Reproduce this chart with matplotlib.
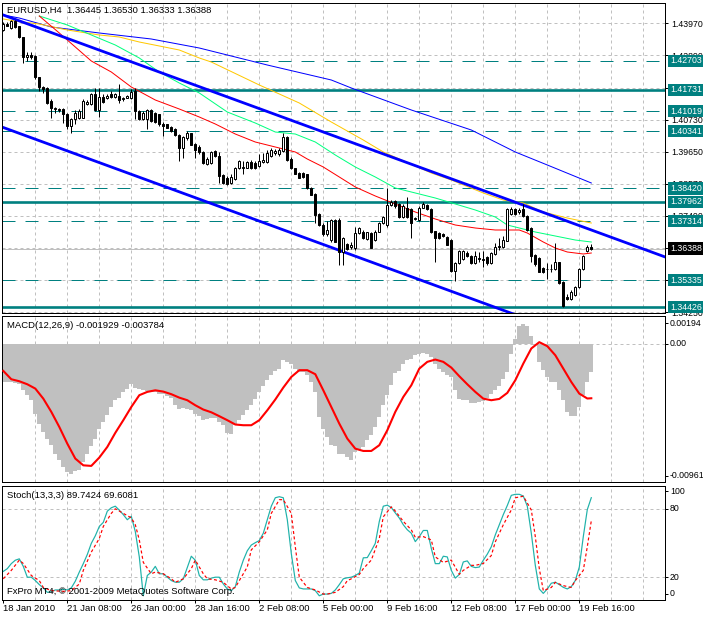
import numpy as np
import matplotlib
matplotlib.use("Agg")
import matplotlib.pyplot as plt
import matplotlib.transforms as mtransforms

plt.rcParams['font.family'] = ['Liberation Sans', 'DejaVu Sans']
plt.rcParams['axes.linewidth'] = 0.72

# ------------------------------------------------------------------ data
header_text = "EURUSD,H4  1.36445 1.36530 1.36333 1.36388"
macd_text = "MACD(12,26,9) -0.001929 -0.003784"
stoch_text = "Stoch(13,3,3) 89.7424 69.6081"
copyright_text = "FxPro MT4, \u00a9 2001-2009 MetaQuotes Software Corp."

opens = [1.43750, 1.43953, 1.43817, 1.44032, 1.43863, 1.43502, 1.42825, 1.42915, 1.42859, 1.42148,
         1.41832, 1.41787, 1.41358, 1.41076, 1.41099, 1.41076, 1.40907, 1.40512, 1.40738, 1.40794,
         1.40794, 1.41268, 1.41246, 1.41607, 1.41043, 1.41494, 1.41449, 1.41584, 1.41494, 1.41528,
         1.41415, 1.41471, 1.41449, 1.41697, 1.41020, 1.40738, 1.40738, 1.41043, 1.40964, 1.40907,
         1.40591, 1.40569, 1.40479, 1.40400, 1.40208, 1.39779, 1.40095, 1.40264, 1.39915, 1.39819,
         1.39627, 1.39253, 1.39287, 1.39661, 1.39514, 1.38868, 1.38777, 1.38607, 1.38721, 1.39094,
         1.39094, 1.39117, 1.39321, 1.39287, 1.39174, 1.39321, 1.39321, 1.39514, 1.39593, 1.39570,
         1.39684, 1.40159, 1.39400, 1.39094, 1.38947, 1.38947, 1.38890, 1.38437, 1.38233, 1.37554,
         1.37191, 1.36874, 1.36682, 1.37361, 1.37361, 1.36285, 1.36534, 1.36455, 1.36398, 1.36908,
         1.36965, 1.36715, 1.36908, 1.36682, 1.36965, 1.37248, 1.37191, 1.37848, 1.37984, 1.37883,
         1.37452, 1.37769, 1.37713, 1.37373, 1.37339, 1.37769, 1.37860, 1.37713, 1.36976, 1.36919,
         1.36885, 1.36772, 1.36693, 1.35639, 1.35900, 1.36047, 1.36239, 1.36126, 1.35900, 1.36069,
         1.36047, 1.36092, 1.35900, 1.36205, 1.36432, 1.36432, 1.36659, 1.37543, 1.37713, 1.37633,
         1.37713, 1.37486, 1.37089, 1.36160, 1.36069, 1.35752, 1.35707, 1.35707, 1.35707, 1.35933,
         1.35254, 1.34766, 1.34687, 1.34823, 1.35106, 1.35707, 1.36319, 1.36445]
highs = [1.43998, 1.44009, 1.44088, 1.44066, 1.43896, 1.43524, 1.42994, 1.42994, 1.42915, 1.42171,
         1.41866, 1.41832, 1.41415, 1.41155, 1.41133, 1.41110, 1.40964, 1.40794, 1.41043, 1.41076,
         1.41415, 1.41381, 1.41640, 1.41787, 1.41787, 1.41584, 1.41584, 1.41697, 1.41640, 1.41922,
         1.41494, 1.41561, 1.41753, 1.41787, 1.41043, 1.41020, 1.41076, 1.41076, 1.40997, 1.40930,
         1.40659, 1.40591, 1.40512, 1.40433, 1.40230, 1.40174, 1.40343, 1.40287, 1.39948, 1.39865,
         1.39661, 1.39457, 1.39684, 1.39706, 1.39627, 1.38913, 1.38834, 1.38890, 1.39140, 1.39366,
         1.39344, 1.39344, 1.39366, 1.39344, 1.39570, 1.39593, 1.39706, 1.39774, 1.39740, 1.39774,
         1.40273, 1.40193, 1.39457, 1.39117, 1.38981, 1.38981, 1.38913, 1.38460, 1.38267, 1.37588,
         1.37248, 1.37304, 1.37395, 1.37395, 1.37418, 1.36795, 1.36568, 1.36602, 1.37134, 1.37134,
         1.37021, 1.36965, 1.36942, 1.37021, 1.37282, 1.37474, 1.38415, 1.38041, 1.38041, 1.37939,
         1.37883, 1.38132, 1.37747, 1.37452, 1.37826, 1.37973, 1.37905, 1.37747, 1.36999, 1.36953,
         1.36919, 1.36806, 1.36727, 1.35933, 1.36353, 1.36353, 1.36296, 1.36160, 1.36319, 1.36273,
         1.36296, 1.36126, 1.36273, 1.36579, 1.36749, 1.36806, 1.37769, 1.37792, 1.37769, 1.37747,
         1.37883, 1.37520, 1.37112, 1.36205, 1.36092, 1.35786, 1.35900, 1.35865, 1.36579, 1.35956,
         1.35299, 1.34880, 1.34993, 1.35140, 1.35752, 1.36183, 1.36500, 1.36530]
lows = [1.43727, 1.43863, 1.43795, 1.43817, 1.43479, 1.42622, 1.42712, 1.42768, 1.42092, 1.41697,
        1.41640, 1.41268, 1.40772, 1.40964, 1.40997, 1.40625, 1.40400, 1.40264, 1.40569, 1.40738,
        1.40772, 1.41223, 1.41212, 1.41020, 1.40817, 1.41302, 1.41415, 1.41449, 1.41449, 1.41302,
        1.41358, 1.41449, 1.41415, 1.40738, 1.40704, 1.40704, 1.40400, 1.40659, 1.40614, 1.40512,
        1.40174, 1.40433, 1.40321, 1.40174, 1.39328, 1.39441, 1.40061, 1.39869, 1.39441, 1.39570,
        1.39253, 1.39208, 1.39253, 1.39457, 1.38607, 1.38551, 1.38528, 1.38551, 1.38687, 1.39060,
        1.38888, 1.39094, 1.39060, 1.39060, 1.39140, 1.39287, 1.39287, 1.39480, 1.39548, 1.39514,
        1.39627, 1.39344, 1.39060, 1.38888, 1.38755, 1.38777, 1.38381, 1.38188, 1.37248, 1.37168,
        1.36829, 1.36829, 1.36625, 1.36602, 1.35832, 1.35832, 1.36342, 1.36376, 1.36342, 1.36874,
        1.36704, 1.36682, 1.36398, 1.36647, 1.36942, 1.37214, 1.37134, 1.37814, 1.37758, 1.37429,
        1.37407, 1.37429, 1.36749, 1.37339, 1.37316, 1.37747, 1.37679, 1.36919, 1.35956, 1.36727,
        1.36772, 1.36500, 1.35616, 1.35299, 1.35865, 1.36013, 1.36092, 1.35865, 1.35865, 1.35956,
        1.35786, 1.35843, 1.35865, 1.36183, 1.36353, 1.36409, 1.36636, 1.37520, 1.37509, 1.37565,
        1.37452, 1.36999, 1.35956, 1.35820, 1.35594, 1.35559, 1.35367, 1.35616, 1.35673, 1.35186,
        1.34426, 1.34653, 1.34653, 1.34800, 1.35072, 1.35673, 1.36273, 1.36333]
closes = [1.43953, 1.43896, 1.44032, 1.43840, 1.43502, 1.42825, 1.42915, 1.42847, 1.42148, 1.41832,
          1.41764, 1.41302, 1.41133, 1.41133, 1.41043, 1.40907, 1.40512, 1.40738, 1.40964, 1.41020,
          1.41358, 1.41336, 1.41584, 1.41043, 1.41494, 1.41336, 1.41528, 1.41494, 1.41584, 1.41381,
          1.41449, 1.41516, 1.41663, 1.41020, 1.40738, 1.40964, 1.41043, 1.40682, 1.40648, 1.40569,
          1.40512, 1.40456, 1.40343, 1.40208, 1.39779, 1.40140, 1.40264, 1.39892, 1.39723, 1.39638,
          1.39287, 1.39400, 1.39627, 1.39514, 1.38834, 1.38607, 1.38573, 1.38800, 1.39117, 1.39344,
          1.39140, 1.39310, 1.39094, 1.39117, 1.39344, 1.39366, 1.39593, 1.39706, 1.39661, 1.39706,
          1.40159, 1.39366, 1.39094, 1.38913, 1.38777, 1.38800, 1.38415, 1.38211, 1.37531, 1.37191,
          1.36874, 1.37021, 1.37361, 1.36625, 1.36285, 1.36761, 1.36376, 1.36511, 1.36908, 1.37100,
          1.36738, 1.36942, 1.36421, 1.36965, 1.37248, 1.37440, 1.37871, 1.37962, 1.37837, 1.37452,
          1.37826, 1.37452, 1.37259, 1.37407, 1.37769, 1.37905, 1.37713, 1.36953, 1.36749, 1.36749,
          1.36806, 1.36523, 1.35639, 1.35900, 1.36296, 1.36296, 1.36126, 1.35900, 1.36126, 1.36047,
          1.36013, 1.35900, 1.36239, 1.36432, 1.36466, 1.36693, 1.37713, 1.37713, 1.37543, 1.37679,
          1.37486, 1.37033, 1.36126, 1.35865, 1.35616, 1.35594, 1.35720, 1.35695, 1.35933, 1.35220,
          1.34460, 1.34687, 1.34936, 1.35106, 1.35707, 1.36126, 1.36432, 1.36388]

# moving averages (sampled bar index, price)
ma_red_idx = [9, 14, 22, 27, 32, 38, 44, 49, 53, 58, 63, 68, 73, 76, 80, 84, 88, 93, 98, 103,
              108, 113, 118, 123, 129, 131, 135, 138, 141, 145, 147]
ma_red_val = [1.44216, 1.43644, 1.42702, 1.42332, 1.41827, 1.41390, 1.41087, 1.40818, 1.40583, 1.40246,
              1.39977, 1.39809, 1.39641, 1.39405, 1.39136, 1.38800, 1.38463, 1.38161, 1.37891, 1.37622,
              1.37387, 1.37185, 1.37084, 1.37017, 1.37017, 1.36916, 1.36613, 1.36412, 1.36277, 1.36210, 1.36243]
ma_green_idx = [9, 16, 22, 28, 34, 39, 44, 49, 56, 63, 68, 73, 78, 83, 88, 93, 98, 103, 108, 113,
                118, 123, 126, 130, 133, 138, 143, 147]
ma_green_val = [1.44216, 1.43913, 1.43577, 1.43240, 1.42803, 1.42332, 1.41962, 1.41626, 1.40986, 1.40616,
                1.40313, 1.40246, 1.39977, 1.39540, 1.39136, 1.38800, 1.38430, 1.38262, 1.38093, 1.37892,
                1.37690, 1.37454, 1.37185, 1.37051, 1.36950, 1.36815, 1.36680, 1.36613]
ma_gold_idx = [0, 4, 9, 16, 24, 29, 34, 39, 44, 49, 52, 64, 74, 82, 90, 95, 107, 112, 120, 125,
               130, 135, 141, 147]
ma_gold_val = [1.44115, 1.44024, 1.43947, 1.43745, 1.43577, 1.43509, 1.43341, 1.43207, 1.43072, 1.42803,
               1.42668, 1.41895, 1.41289, 1.40650, 1.40044, 1.39641, 1.38934, 1.38699, 1.38262, 1.38026,
               1.37925, 1.37622, 1.37420, 1.37252]
ma_blue_idx = [0, 4, 12, 24, 37, 49, 66, 82, 87, 102, 117, 128, 136, 147]
ma_blue_val = [1.44249, 1.44148, 1.43846, 1.43644, 1.43442, 1.43139, 1.42567, 1.42063, 1.41794, 1.41054,
               1.40381, 1.39641, 1.39204, 1.38598]

# channel trend lines (bar index, price)
channel_idx = [0, 166]
channel_upper = [1.44249, 1.36083]
channel_lower = [1.40465, 1.32299]

# horizontal levels
levels_solid = [1.41731, 1.37962, 1.34426]
levels_dashed = [1.42703, 1.41019, 1.40341, 1.38420, 1.37314, 1.35335]
current_price = 1.36388
price_ticks = [1.43970, 1.42890, 1.41810, 1.40730, 1.39650, 1.38570, 1.37490, 1.36410, 1.35330, 1.34250]
price_ticks_hidden = [1.41810, 1.36410, 1.35330]   # fully covered by level boxes in the reference

# MACD
macd_hist = [-0.00264, -0.00264, -0.00264, -0.00271, -0.00276, -0.00318, -0.00357, -0.00392, -0.00485, -0.00555,
             -0.00613, -0.00659, -0.00705, -0.00763, -0.00810, -0.00856, -0.00891, -0.00907, -0.00884, -0.00875,
             -0.00821, -0.00763, -0.00712, -0.00659, -0.00589, -0.00543, -0.00497, -0.00439, -0.00392, -0.00374,
             -0.00334, -0.00311, -0.00276, -0.00304, -0.00313, -0.00318, -0.00327, -0.00334, -0.00334, -0.00346,
             -0.00350, -0.00360, -0.00374, -0.00427, -0.00450, -0.00443, -0.00452, -0.00462, -0.00485, -0.00503,
             -0.00531, -0.00520, -0.00513, -0.00513, -0.00543, -0.00566, -0.00619, -0.00629, -0.00566, -0.00531,
             -0.00497, -0.00462, -0.00427, -0.00381, -0.00334, -0.00295, -0.00253, -0.00218, -0.00188, -0.00172,
             -0.00114, -0.00125, -0.00137, -0.00172, -0.00195, -0.00195, -0.00218, -0.00264, -0.00334, -0.00508,
             -0.00589, -0.00647, -0.00705, -0.00712, -0.00768, -0.00768, -0.00787, -0.00810, -0.00752, -0.00740,
             -0.00717, -0.00671, -0.00636, -0.00578, -0.00508, -0.00427, -0.00357, -0.00288, -0.00206, -0.00188,
             -0.00137, -0.00114, -0.00102, -0.00079, -0.00067, -0.00063, -0.00067, -0.00090, -0.00137, -0.00172,
             -0.00195, -0.00218, -0.00230, -0.00323, -0.00381, -0.00387, -0.00392, -0.00411, -0.00411, -0.00404,
             -0.00397, -0.00374, -0.00350, -0.00318, -0.00295, -0.00241, -0.00195, -0.00067, 0.00037, 0.00123,
             0.00137, 0.00123, 0.00053, -0.00005, -0.00125, -0.00183, -0.00230, -0.00264, -0.00264, -0.00323,
             -0.00392, -0.00473, -0.00503, -0.00503, -0.00439, -0.00357, -0.00264, -0.00193]
macd_sig_idx = [0, 2, 4, 6, 8, 10, 12, 14, 16, 18, 20, 22, 24, 26, 28, 30, 32, 34, 36, 38,
                40, 42, 44, 46, 48, 50, 52, 54, 56, 58, 60, 62, 64, 66, 68, 70, 72, 74, 76, 78,
                80, 82, 84, 86, 88, 90, 92, 94, 96, 98, 100, 102, 104, 106, 108, 110, 112, 114, 116, 118,
                120, 122, 124, 126, 128, 130, 132, 134, 136, 138, 140, 142, 144, 146, 147]
macd_sig_val = [-0.00188, -0.00246, -0.00260, -0.00281, -0.00311, -0.00381, -0.00473, -0.00578, -0.00694, -0.00798,
                -0.00845, -0.00849, -0.00791, -0.00717, -0.00619, -0.00531, -0.00439, -0.00357, -0.00334, -0.00323,
                -0.00332, -0.00350, -0.00374, -0.00392, -0.00427, -0.00457, -0.00476, -0.00503, -0.00531, -0.00561,
                -0.00566, -0.00566, -0.00531, -0.00462, -0.00387, -0.00304, -0.00230, -0.00183, -0.00183, -0.00211,
                -0.00323, -0.00439, -0.00555, -0.00659, -0.00729, -0.00745, -0.00745, -0.00705, -0.00601, -0.00473,
                -0.00369, -0.00288, -0.00172, -0.00125, -0.00109, -0.00125, -0.00165, -0.00225, -0.00281, -0.00334,
                -0.00381, -0.00392, -0.00383, -0.00341, -0.00253, -0.00137, -0.00032, 0.00012, -0.00016, -0.00079,
                -0.00172, -0.00265, -0.00346, -0.00380, -0.003784]
macd_ticks = [0.00194, 0.0, -0.00961]

# Stochastic
stoch_main = [25.1, 27.5, 31.9, 34.9, 36.1, 29.5, 20.0, 20.0, 17.1, 13.5,
              10.6, 6.7, 7.3, 8.8, 8.8, 9.4, 8.8, 10.6, 16.5, 24.5,
              31.9, 39.9, 49.7, 56.3, 64.5, 68.1, 77.9, 80.9, 82.3, 78.8,
              74.9, 70.4, 73.4, 60.0, 37.8, 3.7, 21.5, 24.5, 29.5, 23.0,
              23.0, 20.0, 17.1, 15.6, 15.6, 18.6, 28.4, 38.4, 34.9, 21.5,
              17.7, 17.7, 19.2, 20.0, 20.0, 14.1, 9.7, 8.2, 11.7, 24.5,
              34.9, 43.2, 48.2, 50.3, 52.1, 58.6, 70.4, 82.3, 89.7, 90.6,
              89.7, 70.4, 40.8, 17.1, 10.6, 9.7, 9.7, 9.7, 8.2, 3.7,
              5.2, 5.2, 5.8, 8.8, 13.5, 18.6, 19.5, 20.0, 21.5, 23.6,
              37.0, 37.2, 43.2, 49.7, 68.9, 82.3, 83.2, 81.1, 76.4, 71.9,
              66.0, 61.6, 58.6, 51.2, 55.6, 61.0, 61.0, 45.3, 31.9, 31.9,
              38.4, 37.8, 26.0, 19.2, 22.4, 33.4, 34.3, 29.5, 28.4, 28.9,
              34.9, 40.2, 46.7, 57.1, 66.0, 74.9, 82.9, 91.8, 92.7, 92.7,
              91.2, 82.3, 58.6, 30.4, 9.7, 5.8, 9.7, 14.7, 15.6, 13.5,
              11.1, 9.7, 11.7, 17.1, 28.9, 55.6, 79.3, 89.74]
stoch_sig_idx = [0, 2, 4, 5, 7, 9, 10, 12, 15, 17, 19, 20, 22, 24, 25, 27, 28, 30, 32, 33,
                 34, 35, 37, 38, 40, 42, 43, 45, 47, 48, 50, 51, 53, 55, 57, 58, 59, 61, 62, 64,
                 66, 67, 69, 70, 72, 73, 74, 76, 78, 80, 81, 83, 85, 86, 87, 89, 90, 92, 94, 95,
                 97, 98, 100, 102, 103, 105, 107, 108, 110, 112, 114, 115, 117, 118, 120, 122, 123, 125, 127, 128,
                 130, 132, 133, 134, 135, 137, 138, 140, 142, 143, 145, 146, 147]
stoch_sig_val = [18.6, 26.0, 35.0, 32.0, 21.5, 17.0, 11.0, 8.2, 7.6, 8.2, 14.0, 26.0, 42.0, 54.0, 64.5, 76.0, 80.0, 76.0, 72.0, 66.0,
                 52.7, 33.0, 23.0, 24.5, 23.0, 18.6, 15.5, 18.6, 27.5, 35.0, 23.0, 18.6, 17.7, 15.5, 9.6, 11.0, 17.0, 29.0, 44.0, 51.0,
                 61.5, 76.0, 88.0, 88.0, 76.0, 46.7, 20.0, 11.0, 8.8, 5.2, 5.2, 6.7, 11.7, 17.0, 18.6, 22.4, 27.5, 35.0, 54.0, 73.0,
                 81.7, 78.0, 69.0, 61.5, 55.0, 55.6, 52.7, 37.8, 33.0, 35.0, 22.5, 26.0, 30.4, 30.4, 32.0, 39.0, 51.0, 66.0, 79.0, 89.7,
                 91.0, 79.0, 55.6, 27.5, 8.2, 11.0, 15.5, 12.6, 11.0, 17.0, 26.0, 46.7, 69.6]
stoch_ticks = [100, 80, 20, 0]

# time axis labels
time_label_idx = [0, 16, 32, 48, 64, 80, 96, 112, 128, 144]
time_labels = ['18 Jan 2010', '21 Jan 08:00', '26 Jan 00:00', '28 Jan 16:00', '2 Feb 08:00',
               '5 Feb 00:00', '9 Feb 16:00', '12 Feb 08:00', '17 Feb 00:00', '19 Feb 16:00']

# ------------------------------------------------------------------ style
TEAL = '#008080'
GRID = '#C0C0C0'
PX = 0.72  # one pixel in points at dpi 100
FS = 6.8   # panel texts
FSR = 6.3  # right-hand scale texts

W, H = 703, 617
fig = plt.figure(figsize=(W / 100, H / 100), dpi=100)
fig.patch.set_facecolor('white')


def add_ax(l, t, r, b):
    return fig.add_axes([l / W, 1 - b / H, (r - l) / W, (b - t) / H])


ax1 = add_ax(2, 3, 665, 313)
ax2 = add_ax(2, 316, 665, 482)
ax3 = add_ax(2, 486, 665, 600)

XMIN, XMAX = -0.325, 165.425
bars = np.arange(len(opens))
o = np.array(opens); h = np.array(highs); l = np.array(lows); c = np.array(closes)

for ax in (ax1, ax2, ax3):
    ax.set_xlim(XMIN, XMAX)
    for s in ax.spines.values():
        s.set_linewidth(PX)
        s.set_color('black')
    for gx in range(8, 166, 8):
        ax.axvline(gx, color=GRID, lw=PX, dashes=(3, 3), zorder=0)

# ---------------- main price panel
ax1.set_ylim(1.34225, 1.44653)
for gp in price_ticks:
    ax1.axhline(gp, color=GRID, lw=PX, dashes=(3, 3), zorder=0)
for lv in levels_solid:
    ax1.axhline(lv, color=TEAL, lw=1.9, zorder=1)
for lv in levels_dashed:
    ax1.axhline(lv, color=TEAL, lw=PX, dashes=(13, 10), zorder=1)
ax1.axhline(current_price, color=GRID, lw=PX, zorder=1)

ax1.plot(ma_blue_idx, ma_blue_val, color='#0000FF', lw=PX, zorder=2)
ax1.plot(ma_gold_idx, ma_gold_val, color='#FFC800', lw=PX, zorder=2)
ax1.plot(ma_green_idx, ma_green_val, color='#00FF7F', lw=PX, zorder=2)
ax1.plot(ma_red_idx, ma_red_val, color='#FF0000', lw=PX, zorder=2)
ax1.plot(channel_idx, channel_upper, color='#0000FF', lw=2.0, zorder=2.5)
ax1.plot(channel_idx, channel_lower, color='#0000FF', lw=2.0, zorder=2.5)

ax1.vlines(bars, l, h, color='black', lw=PX, zorder=4)
body_col = np.where(c >= o, 'white', 'black')
ax1.bar(bars, np.abs(c - o), bottom=np.minimum(o, c), width=0.5, color=body_col,
        edgecolor='black', linewidth=PX, zorder=5)

ax1.set_xticks([])
ax1.yaxis.tick_right()
ax1.set_yticks(price_ticks)
ax1.set_yticklabels(['' if p in price_ticks_hidden else f'{p:.5f}' for p in price_ticks])
ax1.tick_params(axis='y', direction='out', length=2.2, width=PX, pad=2.5, labelsize=FSR,
                right=True, left=False)

ytr = mtransforms.blended_transform_factory(ax1.transAxes, ax1.transData)
for lv in levels_solid + levels_dashed:
    ax1.text(1.0, lv, f'{lv:.5f}', transform=mtransforms.offset_copy(ytr, fig=fig, x=5, y=0, units='dots'),
             ha='left', va='center', fontsize=FSR, color='white', clip_on=False, zorder=10,
             bbox=dict(boxstyle='square,pad=0.2', fc=TEAL, ec='none'))
ax1.text(1.0, current_price, f'{current_price:.5f}',
         transform=mtransforms.offset_copy(ytr, fig=fig, x=5, y=0, units='dots'),
         ha='left', va='center', fontsize=FSR, color='white', clip_on=False, zorder=11,
         bbox=dict(boxstyle='square,pad=0.2', fc='black', ec='none'))


def right_labels(ax, vals, offsets, fmt):
    tr = mtransforms.blended_transform_factory(ax.transAxes, ax.transData)
    for v, dy in zip(vals, offsets):
        t = mtransforms.offset_copy(tr, fig=fig, x=0, y=dy, units='dots')
        ax.plot([1.0], [v], marker=1, markersize=2.2, mew=PX, color='black', transform=t, clip_on=False)
        ax.text(1.0, v, fmt(v), transform=mtransforms.offset_copy(tr, fig=fig, x=5, y=dy, units='dots'),
                ha='left', va='center', fontsize=FSR, clip_on=False)


# ---------------- MACD panel
ax2.set_ylim(macd_ticks[-1], macd_ticks[0])
ax2.axhline(0, color=GRID, lw=PX, dashes=(3, 3), zorder=0)
ax2.bar(bars, macd_hist, width=1.0, color=GRID, linewidth=0, zorder=1)
ax2.plot(macd_sig_idx, macd_sig_val, color='#FF0000', lw=1.5, zorder=3)
ax2.set_xticks([]); ax2.set_yticks([])
right_labels(ax2, macd_ticks, [-7, 0, 6],
             lambda v: '0.00' if v == 0 else f'{v:.5f}')

# ---------------- Stochastic panel
ax3.set_ylim(0, 100)
for gy in (20, 80):
    ax3.axhline(gy, color=GRID, lw=PX, dashes=(3, 3), zorder=0)
ax3.plot(bars, stoch_main, color='#20B2AA', lw=PX * 1.2, zorder=2)
ax3.plot(stoch_sig_idx, stoch_sig_val, color='#FF0000', lw=PX * 1.2, linestyle=(0, (2.5, 2)), zorder=3)
ax3.set_yticks([])
right_labels(ax3, stoch_ticks, [-5, 0, 0, 6], lambda v: f'{v:g}')
ax3.set_xticks(time_label_idx)
ax3.set_xticklabels(time_labels, ha='left', fontsize=FS)
ax3.tick_params(axis='x', direction='out', length=2.2, width=PX, pad=0.8)

# ---------------- panel titles
def ftext(x, y, s, **kw):
    fig.text(x / W, 1 - y / H, s, ha='left', va='center', fontsize=FS, zorder=20, **kw)

ftext(7, 10, header_text)
ftext(7, 325, macd_text)
ftext(7, 495, stoch_text)
ftext(7, 591, copyright_text)

fig.savefig('out.png', dpi=100, facecolor='white')
